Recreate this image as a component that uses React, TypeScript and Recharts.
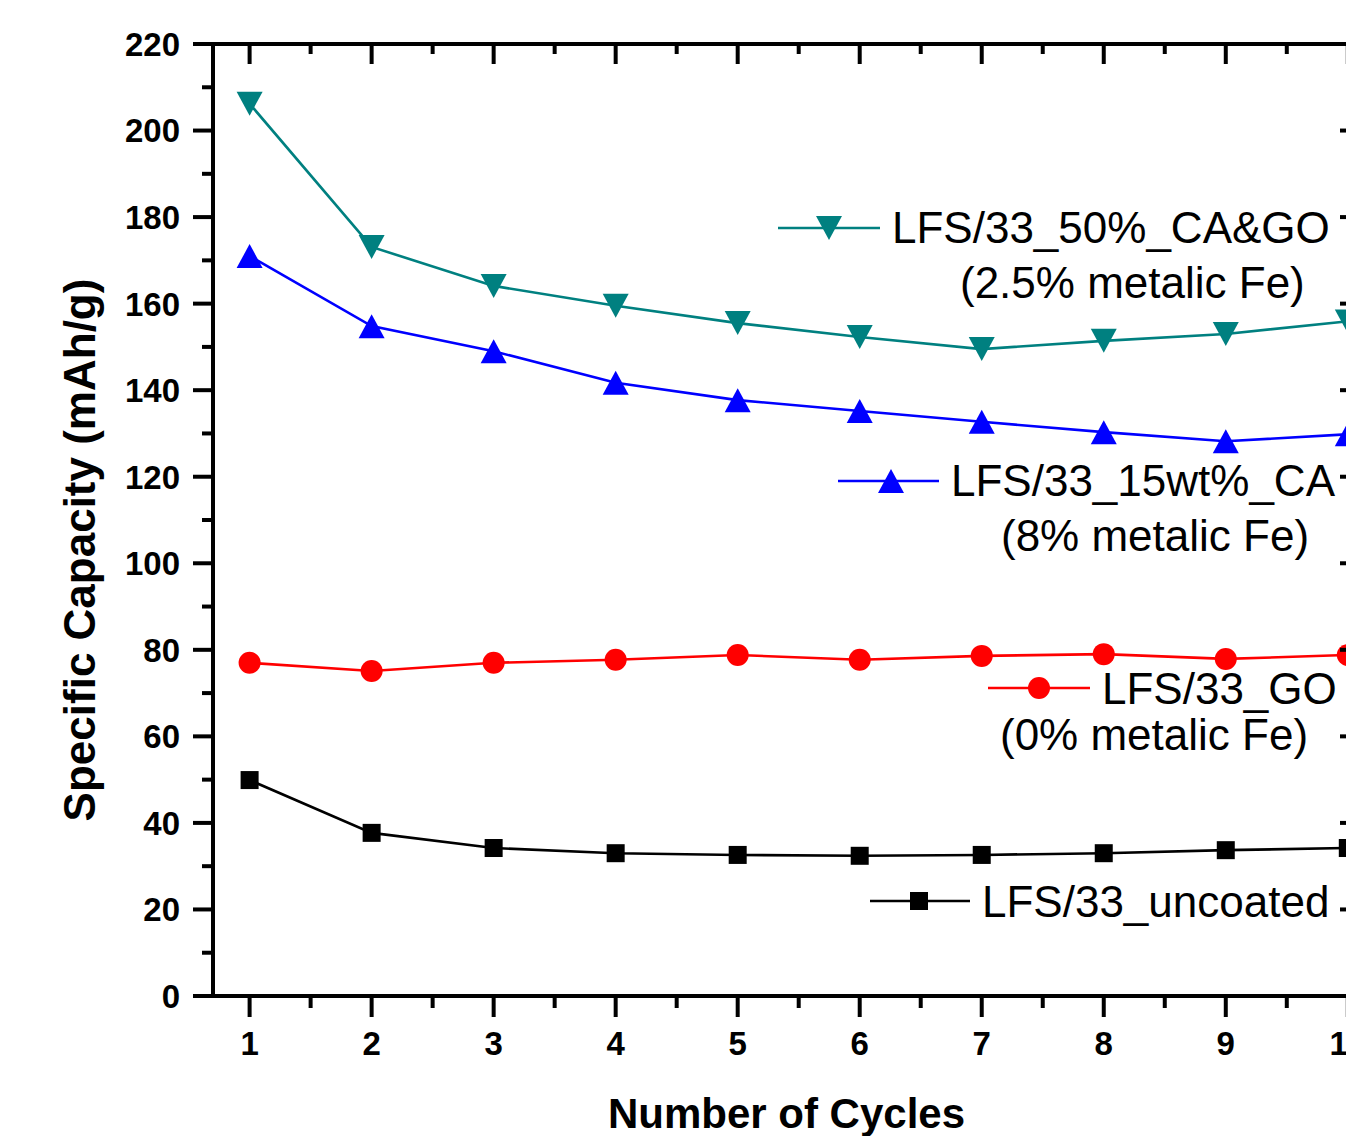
import React from 'react';
import { LineChart, Line, XAxis, YAxis } from 'recharts';

// cycle numbers and capacities (mAh/g)
const cycles = [1, 2, 3, 4, 5, 6, 7, 8, 9, 10];
const caGo = [206.2, 173.1, 164.1, 159.5, 155.5, 152.3, 149.5, 151.4, 153.0, 155.9];
const ca15 = [171.0, 154.8, 149.0, 141.7, 137.7, 135.2, 132.7, 130.3, 128.2, 129.8];
const goOnly = [77.0, 75.1, 77.0, 77.7, 78.8, 77.7, 78.6, 79.0, 77.9, 78.8];
const uncoated = [49.9, 37.7, 34.2, 33.0, 32.6, 32.4, 32.6, 33.0, 33.7, 34.2];

const seriesNames = ['LFS/33_50%_CA&GO', 'LFS/33_15wt%_CA', 'LFS/33_GO', 'LFS/33_uncoated'];
const seriesNotes = ['(2.5% metalic Fe)', '(8% metalic Fe)', '(0% metalic Fe)', ''];
const seriesColors = ['#008080', '#0000ff', '#ff0000', '#000000'];

const xTicks = cycles.flatMap(c => (c < 10 ? [c, c + 0.5] : [c]));
const yTicks = Array.from({ length: 23 }, (_, i) => i * 10);

const data = cycles.map((c, i) => ({
  cycle: c,
  caGo: caGo[i],
  ca15: ca15[i],
  go: goOnly[i],
  uncoated: uncoated[i],
}));

const FONT = '"Liberation Sans", Arial, Helvetica, sans-serif';
const AX = 4;

type Shape = 'down' | 'up' | 'circle' | 'square';

const Marker = ({ cx, cy, shape, color }: { cx: number; cy: number; shape: Shape; color: string }) => {
  if (shape === 'down')
    return <polygon points={`${cx - 13},${cy - 12} ${cx + 13},${cy - 12} ${cx},${cy + 12}`} fill={color} />;
  if (shape === 'up')
    return <polygon points={`${cx - 13},${cy + 12} ${cx + 13},${cy + 12} ${cx},${cy - 12}`} fill={color} />;
  if (shape === 'circle') return <circle cx={cx} cy={cy} r={11} fill={color} />;
  return <rect x={cx - 9} y={cy - 9} width={18} height={18} fill={color} />;
};

const dotFor = (shape: Shape, color: string) => (p: any) =>
  <Marker key={`d-${shape}-${p.index}`} cx={p.cx} cy={p.cy} shape={shape} color={color} />;

const BottomTick = (props: any) => {
  const { x, y, payload } = props;
  const major = Number.isInteger(payload.value);
  return (
    <g>
      <line x1={x} y1={y} x2={x} y2={y + (major ? 21 : 12)} stroke="#000" strokeWidth={AX} />
      {major && (
        <text x={x} y={y + 59} textAnchor="middle" fontSize={33} fontWeight="bold" fontFamily={FONT} fill="#000">
          {payload.value}
        </text>
      )}
    </g>
  );
};

const TopTick = (props: any) => {
  const { x, y, payload } = props;
  const major = Number.isInteger(payload.value);
  return <line x1={x} y1={y} x2={x} y2={y + (major ? 20 : 10)} stroke="#000" strokeWidth={AX} />;
};

const LeftTick = (props: any) => {
  const { x, y, payload } = props;
  const major = payload.value % 20 === 0;
  return (
    <g>
      <line x1={x} y1={y} x2={x - (major ? 20 : 11)} y2={y} stroke="#000" strokeWidth={AX} />
      {major && (
        <text x={x - 33} y={y} dy="0.36em" textAnchor="end" fontSize={33} fontWeight="bold" fontFamily={FONT} fill="#000">
          {payload.value}
        </text>
      )}
    </g>
  );
};

const RightTick = (props: any) => {
  const { x, y, payload } = props;
  const major = payload.value % 20 === 0;
  return <line x1={x} y1={y} x2={x - (major ? 20 : 10)} y2={y} stroke="#000" strokeWidth={AX} />;
};

const YTitle = (props: any) => {
  const vb = props.viewBox || { x: 0, y: 44, width: 213, height: 952 };
  const cx = 79;
  const cy = vb.y + vb.height / 2 + 30;
  return (
    <text
      x={cx}
      y={cy}
      transform={`rotate(-90 ${cx} ${cy})`}
      textAnchor="middle"
      dominantBaseline="central"
      fontSize={44}
      fontWeight="bold"
      fontFamily={FONT}
      fill="#000"
    >
      Specific Capacity (mAh/g)
    </text>
  );
};

const XTitle = (props: any) => {
  const vb = props.viewBox || { x: 213, y: 996, width: 1147, height: 140 };
  return (
    <text x={vb.x + vb.width / 2} y={1128} textAnchor="middle" fontSize={42} fontWeight="bold" fontFamily={FONT} fill="#000">
      Number of Cycles
    </text>
  );
};

// legend entries are placed inside the plot like in the original figure
const legendPos = [
  { lx: 778, rx: 880, y: 228, mx: 829, tx: 892, ty: 243, nx: 960, ny: 298, shape: 'down' as Shape },
  { lx: 838, rx: 939, y: 481, mx: 891, tx: 951, ty: 496, nx: 1001, ny: 551, shape: 'up' as Shape },
  { lx: 988, rx: 1090, y: 688, mx: 1039, tx: 1102, ty: 704, nx: 1000, ny: 750, shape: 'circle' as Shape },
  { lx: 870, rx: 970, y: 901, mx: 919, tx: 982, ty: 917, nx: 0, ny: 0, shape: 'square' as Shape },
];

const LegendOverlay = () => (
  <svg width={1346} height={1136} style={{ position: 'absolute', left: 0, top: 0, pointerEvents: 'none' }}>
    {legendPos.map((p, i) => (
      <g key={seriesNames[i]}>
        <line x1={p.lx} y1={p.y} x2={p.rx} y2={p.y} stroke={seriesColors[i]} strokeWidth={2.6} />
        <Marker cx={p.mx} cy={p.y} shape={p.shape} color={seriesColors[i]} />
        <text x={p.tx} y={p.ty} fontSize={44} fontFamily={FONT} fill="#000">
          {seriesNames[i]}
        </text>
        {seriesNotes[i] && (
          <text x={p.nx} y={p.ny} fontSize={44} fontFamily={FONT} fill="#000">
            {seriesNotes[i]}
          </text>
        )}
      </g>
    ))}
  </svg>
);

const App: React.FC = () => {
  return (
    <div style={{ position: 'absolute', left: 0, top: 0, width: 1346, height: 1136, overflow: 'hidden', background: '#fff' }}>
      <LineChart width={1400} height={1136} data={data} margin={{ top: 14, right: 10, bottom: 0, left: 0 }}>
        <XAxis
          dataKey="cycle"
          type="number"
          domain={[0.7, 10.1]}
          ticks={xTicks}
          interval={0}
          allowDataOverflow
          height={140}
          tickSize={0}
          tickMargin={0}
          tickLine={false}
          axisLine={{ stroke: '#000', strokeWidth: AX }}
          tick={<BottomTick />}
          label={{ content: <XTitle /> }}
        />
        <XAxis
          xAxisId="top"
          orientation="top"
          dataKey="cycle"
          type="number"
          domain={[0.7, 10.1]}
          ticks={xTicks}
          interval={0}
          allowDataOverflow
          height={30}
          tickSize={0}
          tickMargin={0}
          tickLine={false}
          axisLine={{ stroke: '#000', strokeWidth: AX }}
          tick={<TopTick />}
        />
        <YAxis
          type="number"
          domain={[0, 220]}
          ticks={yTicks}
          interval={0}
          allowDataOverflow
          width={213}
          tickSize={0}
          tickMargin={0}
          tickLine={false}
          axisLine={{ stroke: '#000', strokeWidth: AX }}
          tick={<LeftTick />}
          label={{ content: <YTitle /> }}
        />
        <YAxis
          yAxisId="right"
          orientation="right"
          type="number"
          domain={[0, 220]}
          ticks={yTicks}
          interval={0}
          allowDataOverflow
          width={30}
          tickSize={0}
          tickMargin={0}
          tickLine={false}
          axisLine={{ stroke: '#000', strokeWidth: AX }}
          tick={<RightTick />}
        />
        <Line type="linear" dataKey="uncoated" name={seriesNames[3]} stroke={seriesColors[3]} strokeWidth={2.6} dot={dotFor('square', seriesColors[3])} isAnimationActive={false} />
        <Line type="linear" dataKey="go" name={seriesNames[2]} stroke={seriesColors[2]} strokeWidth={2.6} dot={dotFor('circle', seriesColors[2])} isAnimationActive={false} />
        <Line type="linear" dataKey="ca15" name={seriesNames[1]} stroke={seriesColors[1]} strokeWidth={2.6} dot={dotFor('up', seriesColors[1])} isAnimationActive={false} />
        <Line type="linear" dataKey="caGo" name={seriesNames[0]} stroke={seriesColors[0]} strokeWidth={2.6} dot={dotFor('down', seriesColors[0])} isAnimationActive={false} />
      </LineChart>
      <LegendOverlay />
    </div>
  );
};

export default App;
